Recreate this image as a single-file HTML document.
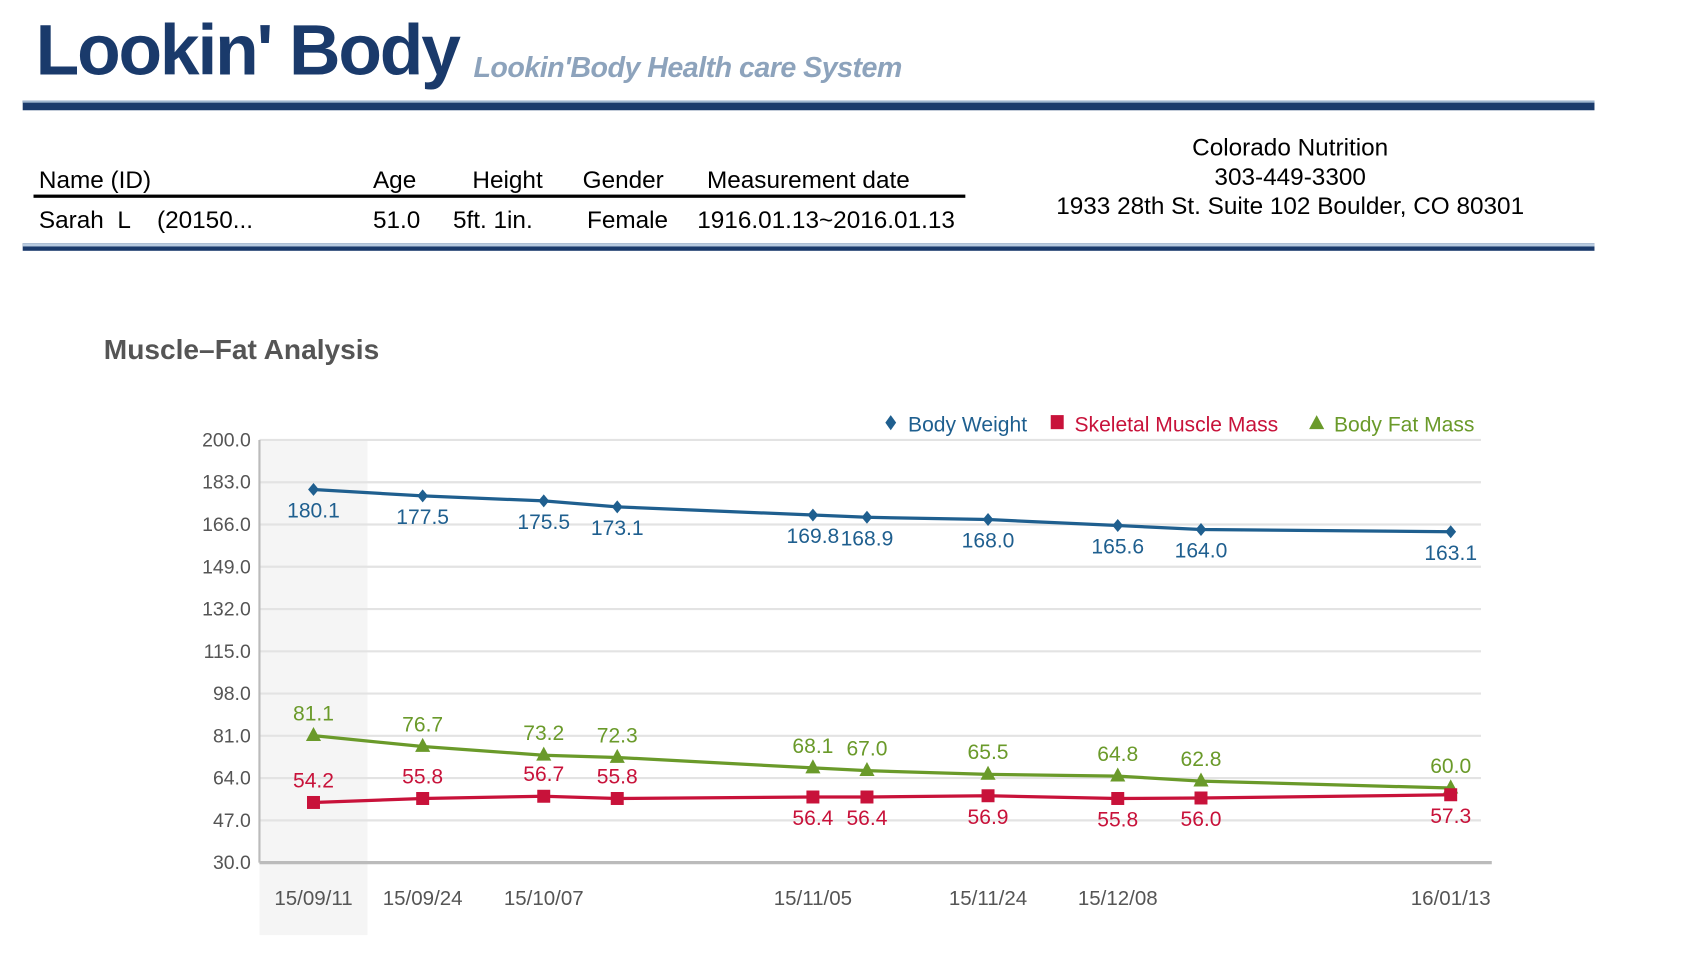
<!DOCTYPE html>
<html><head><meta charset="utf-8"><style>
body{margin:0;width:1695px;height:957px;overflow:hidden;background:#fff;font-family:"Liberation Sans",sans-serif}
#wrap{position:absolute;left:0;top:0;width:1560px;height:890px;transform-origin:0 0;transform:scale(1.081,1.081)}
.t{position:absolute;white-space:nowrap}
.tb{font-size:22.5px}
</style></head><body>
<div id="wrap">
<div class="t" style="left:33px;top:8px;font-size:66px;font-weight:bold;color:#1a3a6b;letter-spacing:-2px">Lookin' Body</div>
<div class="t" style="left:438px;top:47px;font-size:26.5px;font-style:italic;color:#8da3bc;font-weight:bold;letter-spacing:-0.5px">Lookin'Body Health care System</div>
<div style="position:absolute;left:21px;top:93px;width:1454px;height:7px;background:#1a3a6b;border-top:2px solid #9fb6cf"></div>
<div class="t tb" style="left:36px;top:154px">Name (ID)</div>
<div class="t tb" style="left:345px;top:154px">Age</div>
<div class="t tb" style="left:437px;top:154px">Height</div>
<div class="t tb" style="left:539px;top:154px">Gender</div>
<div class="t tb" style="left:654px;top:154px">Measurement date</div>
<div style="position:absolute;left:31px;top:180px;width:862px;height:3px;background:#000"></div>
<div class="t tb" style="left:36px;top:191px">Sarah&nbsp; L &nbsp;&nbsp;&nbsp;(20150...</div>
<div class="t tb" style="left:345px;top:191px">51.0</div>
<div class="t tb" style="left:419px;top:191px">5ft. 1in.</div>
<div class="t tb" style="left:543px;top:191px">Female</div>
<div class="t tb" style="left:645px;top:191px">1916.01.13~2016.01.13</div>
<div class="t" style="left:950px;top:123px;width:487px;text-align:center;font-size:22.5px;line-height:27px;white-space:normal">Colorado Nutrition<br>303-449-3300<br>1933 28th St. Suite 102 Boulder, CO 80301</div>
<div style="position:absolute;left:21px;top:225px;width:1454px;height:4px;background:#1a3a6b;border-top:3px solid #b8cbe0"></div>
<div class="t" style="left:96px;top:308px;font-size:26px;font-weight:bold;color:#555">Muscle–Fat Analysis</div>
<svg id="chart" width="1560" height="890" style="position:absolute;left:0;top:0"></svg>
</div>
<script>
const dates=["15/09/11","15/09/24","15/10/07","","15/11/05","","15/11/24","15/12/08","","16/01/13"];
const xpos=[290,391,503,571,752,802,914,1034,1111,1342];
const weight=[180.1,177.5,175.5,173.1,169.8,168.9,168.0,165.6,164.0,163.1];
const muscle=[54.2,55.8,56.7,55.8,56.4,56.4,56.9,55.8,56.0,57.3];
const fat=[81.1,76.7,73.2,72.3,68.1,67.0,65.5,64.8,62.8,60.0];
const ticks=[200,183,166,149,132,115,98,81,64,47,30];
const muscleBelow=[false,false,false,false,true,true,true,true,true,true];
const svg=document.getElementById('chart');const NS='http://www.w3.org/2000/svg';
function y(v){return 798-(v-30)/170*391;}
function x(i){return xpos[i];}
function mk(tag,a,p){const e=document.createElementNS(NS,tag);for(const k in a)e.setAttribute(k,a[k]);(p||svg).appendChild(e);return e;}
let e=mk('rect',{x:240,y:407,width:100,height:458,fill:'#f5f5f5'});


ticks.forEach(t=>{
 let g=mk('line',{x1:240,x2:t===30?1380:1370,y1:y(t),y2:y(t),stroke:t===30?'#bbb':'#e3e3e3','stroke-width':t===30?3:2});
 
 
 let l=mk('text',{x:232,y:y(t)+6,'text-anchor':'end','font-size':18,fill:'#555','font-family':'Liberation Sans'});l.textContent=t.toFixed(1);
 
 
});
e=mk('line',{x1:240,x2:240,y1:407,y2:798,stroke:'#bbb','stroke-width':2});


dates.forEach((d,i)=>{if(!d)return;let l=mk('text',{x:x(i),y:837,'text-anchor':'middle','font-size':19,fill:'#555','font-family':'Liberation Sans'});l.textContent=d;
 
 });
function series(vals,color,name,shape,labelFn){
 let p=mk('polyline',{points:vals.map((v,i)=>x(i)+','+y(v)).join(' '),fill:'none',stroke:color,'stroke-width':3});
 
 
 vals.forEach((v,i)=>{
  let m;const cx=x(i),cy=y(v);
  if(shape==='d')m=mk('polygon',{points:`${cx},${cy-6} ${cx+5},${cy} ${cx},${cy+6} ${cx-5},${cy}`,fill:color});
  else if(shape==='s')m=mk('rect',{x:cx-6,y:cy-6,width:12,height:12,fill:color});
  else m=mk('polygon',{points:`${cx},${cy-8} ${cx+7},${cy+5} ${cx-7},${cy+5}`,fill:color});
  
  
  let t=mk('text',{x:cx,y:labelFn(i,cy),'text-anchor':'middle','font-size':19.5,fill:color,'font-family':'Liberation Sans'});t.textContent=v.toFixed(1);
  
  
 });
}
series(weight,'#1f5f8f','body-weight','d',(i,cy)=>cy+26);
series(fat,'#6a9a2a','body-fat-mass','t',(i,cy)=>cy-14);
series(muscle,'#c8123a','skeletal-muscle-mass','s',(i,cy)=>muscleBelow[i]?cy+26:cy-14);
const leg=[['Body Weight','#1f5f8f','d',818],['Skeletal Muscle Mass','#c8123a','s',972],['Body Fat Mass','#6a9a2a','t',1212]];
leg.forEach(L=>{let cx=L[3]+6,cy=391;let m;
 if(L[2]==='d')m=mk('polygon',{points:`${cx},${cy-7} ${cx+5},${cy} ${cx},${cy+7} ${cx-5},${cy}`,fill:L[1]});
 else if(L[2]==='s')m=mk('rect',{x:cx-6,y:cy-7,width:12,height:13,fill:L[1]});
 else m=mk('polygon',{points:`${cx},${cy-7} ${cx+7},${cy+6} ${cx-7},${cy+6}`,fill:L[1]});
 
 
 let t=mk('text',{x:L[3]+22,y:399,'font-size':19.5,fill:L[1],'font-family':'Liberation Sans'});t.textContent=L[0];
 
 
});
</script>
</body></html>
